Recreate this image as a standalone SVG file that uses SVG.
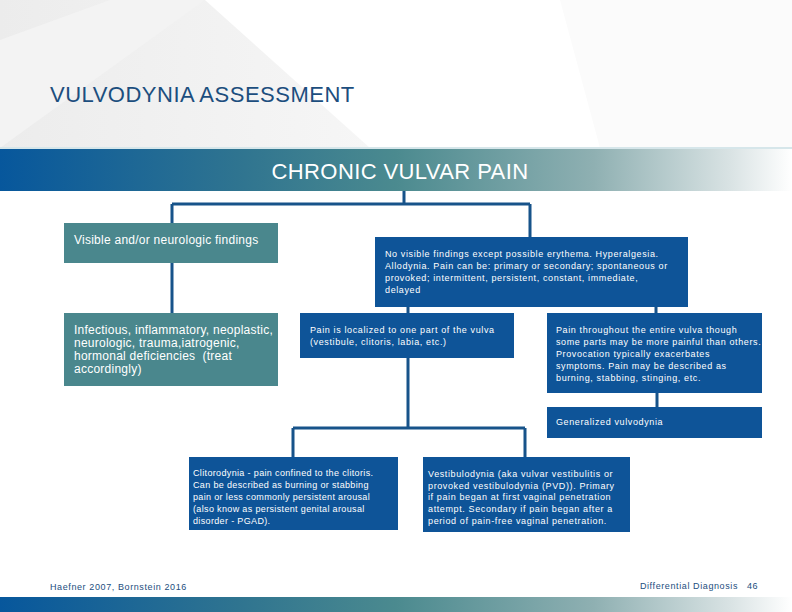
<svg xmlns="http://www.w3.org/2000/svg" width="792" height="612" viewBox="0 0 792 612">
<defs>
<linearGradient id="band" x1="0" y1="0" x2="1" y2="0">
<stop offset="0" stop-color="#07579c"/>
<stop offset="0.3" stop-color="#2f7490"/>
<stop offset="0.5" stop-color="#4b8a8f"/>
<stop offset="0.75" stop-color="#8fb0b2"/>
<stop offset="0.92" stop-color="#d8e2e3"/>
<stop offset="1" stop-color="#ffffff"/>
</linearGradient>
<linearGradient id="bg" x1="0" y1="0" x2="1" y2="0">
<stop offset="0" stop-color="#ececec"/>
<stop offset="1" stop-color="#f6f6f6"/>
</linearGradient>
<style>
.teal{fill:#4a878d}
.blue{fill:#0e5498}
.conn{fill:none;stroke:#17538a;stroke-width:3}
.t{font-family:"Liberation Sans",Arial,sans-serif;fill:#ffffff}
.big{font-size:12px;letter-spacing:0.25px}
.sm{font-size:9px;letter-spacing:0.62px}
.sm2{font-size:9px;letter-spacing:0.35px}
.foot{font-family:"Liberation Sans",Arial,sans-serif;font-size:9px;fill:#1c4e7e;letter-spacing:0.6px}
</style>
</defs>
<rect width="792" height="612" fill="#ffffff"/>
<polygon points="0,0 205,0 370,148 0,148" fill="url(#bg)"/>
<polygon points="0,40 110,0 205,0 0,148" fill="#f3f3f3"/>
<polygon points="560,0 792,0 792,148 600,148" fill="#fbfbfb"/>
<text x="50" y="102" font-family="Liberation Sans, Arial, sans-serif" font-size="22" letter-spacing="0.5" fill="#1c4e7e">VULVODYNIA ASSESSMENT</text>
<rect x="0" y="147" width="792" height="2" fill="#d6e6ea"/>
<rect x="0" y="149" width="792" height="42" fill="url(#band)"/>
<text x="400" y="179" text-anchor="middle" class="t" font-size="22" letter-spacing="0.4">CHRONIC VULVAR PAIN</text>

<g id="connectors">
<path class="conn" d="M404,191 V204 M172,204 H530 M172,204 V223 M530,204 V237"/>
<path class="conn" d="M172,263 V313"/>
<path class="conn" d="M408,307 V313 M656,307 V313"/>
<path class="conn" d="M657,393 V407"/>
<path class="conn" d="M408,358 V428 M293,428 H525 M293,428 V457 M525,428 V457"/>
</g>

<g id="n-visible">
<rect class="teal" x="64" y="223" width="214" height="40"/>
<text class="t big" x="74" y="244">Visible and/or neurologic findings</text>
</g>
<g id="n-infectious">
<rect class="teal" x="64" y="313" width="214" height="73"/>
<text class="t big" x="74" y="334">Infectious, inflammatory, neoplastic,</text>
<text class="t big" x="74" y="347">neurologic, trauma,iatrogenic,</text>
<text class="t big" x="74" y="360" xml:space="preserve">hormonal deficiencies  (treat</text>
<text class="t big" x="74" y="373">accordingly)</text>
</g>
<g id="n-novisible">
<rect class="blue" x="375" y="237" width="313" height="70"/>
<text class="t sm" x="385" y="257">No visible findings except possible erythema. Hyperalgesia.</text>
<text class="t sm" x="385" y="269">Allodynia. Pain can be: primary or secondary; spontaneous or</text>
<text class="t sm" x="385" y="281">provoked; intermittent, persistent, constant, immediate,</text>
<text class="t sm" x="385" y="293">delayed</text>
</g>
<g id="n-localized">
<rect class="blue" x="300" y="313" width="214" height="45"/>
<text class="t sm" x="310" y="333">Pain is localized to one part of the vulva</text>
<text class="t sm" x="310" y="345">(vestibule, clitoris, labia, etc.)</text>
</g>
<g id="n-throughout">
<rect class="blue" x="547" y="313" width="215" height="80"/>
<text class="t sm" x="556" y="333">Pain throughout the entire vulva though</text>
<text class="t sm" x="556" y="345">some parts may be more painful than others.</text>
<text class="t sm" x="556" y="357">Provocation typically exacerbates</text>
<text class="t sm" x="556" y="369">symptoms. Pain may be described as</text>
<text class="t sm" x="556" y="381">burning, stabbing, stinging, etc.</text>
</g>
<g id="n-generalized">
<rect class="blue" x="547" y="407" width="215" height="31"/>
<text class="t sm" x="556" y="425">Generalized vulvodynia</text>
</g>
<g id="n-clitorodynia">
<rect class="blue" x="189" y="457" width="209" height="73"/>
<text class="t sm2" x="193" y="476">Clitorodynia - pain confined to the clitoris.</text>
<text class="t sm2" x="193" y="488">Can be described as burning or stabbing</text>
<text class="t sm2" x="193" y="500">pain or less commonly persistent arousal</text>
<text class="t sm2" x="193" y="512">(also know as persistent genital arousal</text>
<text class="t sm2" x="193" y="524">disorder - PGAD).</text>
</g>
<g id="n-vestibulodynia">
<rect class="blue" x="423" y="457" width="207" height="75"/>
<text class="t sm" x="428" y="477">Vestibulodynia (aka vulvar vestibulitis or</text>
<text class="t sm" x="428" y="489">provoked vestibulodynia (PVD)). Primary</text>
<text class="t sm" x="428" y="500">if pain began at first vaginal penetration</text>
<text class="t sm" x="428" y="512">attempt. Secondary if pain began after a</text>
<text class="t sm" x="428" y="524">period of pain-free vaginal penetration.</text>
</g>

<text class="foot" x="50" y="590">Haefner 2007, Bornstein 2016</text>
<text class="foot" x="738" y="589" text-anchor="end">Differential Diagnosis</text>
<text class="foot" x="747" y="589" letter-spacing="0">46</text>
<rect x="0" y="597" width="792" height="15" fill="url(#band)"/>
</svg>
